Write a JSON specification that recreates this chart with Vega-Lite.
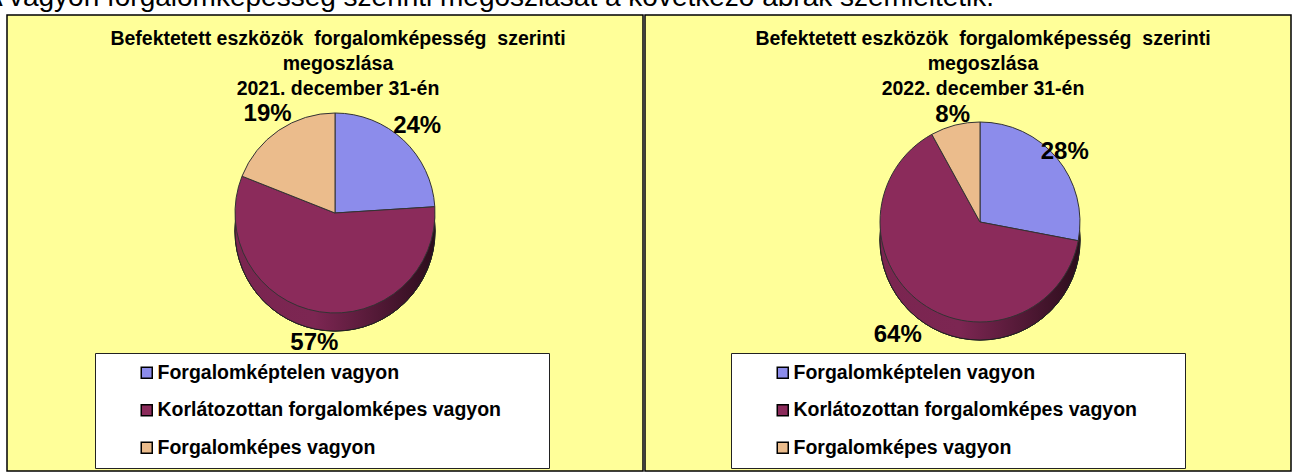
{
  "$schema": "https://vega.github.io/schema/vega-lite/v6.json",
  "padding": {"left": -16, "top": -16, "right": 0, "bottom": 0},
  "background": "white",
  "title": {
    "text": "A vagyon forgalomképesség szerinti megoszlását a következő ábrák szemléltetik.",
    "anchor": "start", "orient": "top", "frame": "group", "dx": -23, "offset": -20,
    "font": "Liberation Sans", "fontSize": 28, "fontWeight": "normal", "color": "black", "baseline": "alphabetic"
  },
  "spacing": 0,
  "resolve": {"scale": {"color": "independent"}},
  "hconcat": [
    {
      "width": 636, "height": 456,
      "view": {"fill": "#FFFF99", "stroke": "#000", "strokeWidth": 1.5},
      "title": {
        "text": ["Befektetett eszközök\u00a0 forgalomképesség\u00a0 szerinti", "megoszlása", "2021. december 31-én"],
        "offset": -84, "dx": 13, "anchor": "middle",
        "font": "Liberation Sans", "fontSize": 19.5, "fontWeight": "bold", "color": "black", "lineHeight": 25
      },
      "data": {"values": [
        {"kategoria": "Forgalomképtelen vagyon", "arany": 0.24, "sorrend": 1},
        {"kategoria": "Korlátozottan forgalomképes vagyon", "arany": 0.57, "sorrend": 2},
        {"kategoria": "Forgalomképes vagyon", "arany": 0.19, "sorrend": 3}
      ]},
      "layer": [
        {
          "mark": {"type": "arc", "radius": 100, "theta": 0, "theta2": 6.2832, "xOffset": 10, "yOffset": -12,
            "fill": {"gradient": "linear", "x1": 0, "x2": 1, "y1": 0, "y2": 0,
              "stops": [{"offset": 0, "color": "#7a2550"}, {"offset": 0.4, "color": "#7c2652"}, {"offset": 1, "color": "#2c0d1c"}]},
            "stroke": "#222", "strokeWidth": 1},
          "encoding": {}
        },
        {
          "mark": {"type": "arc", "radius": 100, "xOffset": 10, "yOffset": -30, "stroke": "#333", "strokeWidth": 1},
          "encoding": {
            "theta": {"field": "arany", "type": "quantitative", "stack": true},
            "order": {"field": "sorrend", "type": "quantitative"},
            "color": {
              "field": "kategoria", "type": "nominal",
              "scale": {"domain": ["Forgalomképtelen vagyon", "Korlátozottan forgalomképes vagyon", "Forgalomképes vagyon"],
                        "range": ["#8C8CEB", "#8B2B5B", "#EBBC8C"]},
              "legend": {
                "orient": "none", "legendX": 88, "legendY": 338, "title": null,
                "fillColor": "white", "strokeColor": "#222", "padding": 10,
                "symbolType": "square", "symbolSize": 121, "symbolStrokeColor": "black", "symbolStrokeWidth": 1.5,
                "symbolOffset": 32, "labelFont": "Liberation Sans", "labelFontSize": 19.5, "labelFontWeight": "bold",
                "labelColor": "black", "labelOffset": 1, "rowPadding": 16.5, "labelLimit": 0,
                "labelExpr": "datum.label + '\u00a0\u00a0\u00a0\u00a0\u00a0\u00a0\u00a0\u200b'"
              }
            }
          }
        },
        {
          "mark": {"type": "text", "radius": {"expr": "datum.kategoria === 'Korlátozottan forgalomképes vagyon' ? 132 : 120"},
            "xOffset": 10, "yOffset": -30, "font": "Liberation Sans", "fontSize": 24, "fontWeight": "bold", "color": "black"},
          "encoding": {
            "theta": {"field": "arany", "type": "quantitative", "stack": true},
            "order": {"field": "sorrend", "type": "quantitative"},
            "detail": {"field": "kategoria", "type": "nominal"},
            "text": {"field": "arany", "type": "quantitative", "format": ".0%"}
          }
        }
      ]
    },
    {
      "width": 646, "height": 456,
      "view": {"fill": "#FFFF99", "stroke": "#000", "strokeWidth": 1.5},
      "title": {
        "text": ["Befektetett eszközök\u00a0 forgalomképesség\u00a0 szerinti", "megoszlása", "2022. december 31-én"],
        "offset": -84, "dx": 15, "anchor": "middle",
        "font": "Liberation Sans", "fontSize": 19.5, "fontWeight": "bold", "color": "black", "lineHeight": 25
      },
      "data": {"values": [
        {"kategoria": "Forgalomképtelen vagyon", "arany": 0.28, "sorrend": 1},
        {"kategoria": "Korlátozottan forgalomképes vagyon", "arany": 0.64, "sorrend": 2},
        {"kategoria": "Forgalomképes vagyon", "arany": 0.08, "sorrend": 3}
      ]},
      "layer": [
        {
          "mark": {"type": "arc", "radius": 100, "theta": 0, "theta2": 6.2832, "xOffset": 12, "yOffset": -3,
            "fill": {"gradient": "linear", "x1": 0, "x2": 1, "y1": 0, "y2": 0,
              "stops": [{"offset": 0, "color": "#7a2550"}, {"offset": 0.4, "color": "#7c2652"}, {"offset": 1, "color": "#2c0d1c"}]},
            "stroke": "#222", "strokeWidth": 1},
          "encoding": {}
        },
        {
          "mark": {"type": "arc", "radius": 100, "xOffset": 12, "yOffset": -21, "stroke": "#333", "strokeWidth": 1},
          "encoding": {
            "theta": {"field": "arany", "type": "quantitative", "stack": true},
            "order": {"field": "sorrend", "type": "quantitative"},
            "color": {
              "field": "kategoria", "type": "nominal",
              "scale": {"domain": ["Forgalomképtelen vagyon", "Korlátozottan forgalomképes vagyon", "Forgalomképes vagyon"],
                        "range": ["#8C8CEB", "#8B2B5B", "#EBBC8C"]},
              "legend": {
                "orient": "none", "legendX": 86, "legendY": 338, "title": null,
                "fillColor": "white", "strokeColor": "#222", "padding": 10,
                "symbolType": "square", "symbolSize": 121, "symbolStrokeColor": "black", "symbolStrokeWidth": 1.5,
                "symbolOffset": 32, "labelFont": "Liberation Sans", "labelFontSize": 19.5, "labelFontWeight": "bold",
                "labelColor": "black", "labelOffset": 1, "rowPadding": 16.5, "labelLimit": 0,
                "labelExpr": "datum.label + '\u00a0\u00a0\u00a0\u00a0\u00a0\u00a0\u00a0\u200b'"
              }
            }
          }
        },
        {
          "mark": {"type": "text", "radius": {"expr": "datum.kategoria === 'Korlátozottan forgalomképes vagyon' ? 140 : 110"},
            "xOffset": 12, "yOffset": -21, "font": "Liberation Sans", "fontSize": 24, "fontWeight": "bold", "color": "black"},
          "encoding": {
            "theta": {"field": "arany", "type": "quantitative", "stack": true},
            "order": {"field": "sorrend", "type": "quantitative"},
            "detail": {"field": "kategoria", "type": "nominal"},
            "text": {"field": "arany", "type": "quantitative", "format": ".0%"}
          }
        }
      ]
    }
  ],
  "config": {
    "font": "Liberation Sans"
  }
}
